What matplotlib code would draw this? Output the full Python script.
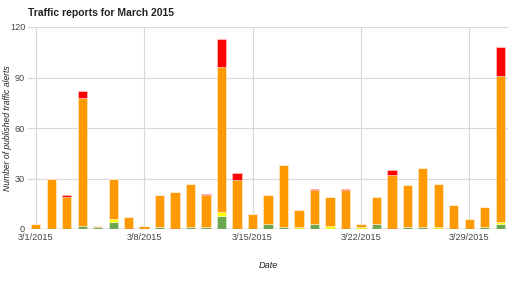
import numpy as np
import matplotlib.pyplot as plt

plt.rcParams["font.family"] = ["Liberation Sans", "DejaVu Sans"]

days = np.arange(1, 32)
green = [0, 0, 0, 2, 1, 4, 0, 0, 1, 0, 1, 1, 8, 0, 0, 3, 1, 0, 3, 0, 0, 0, 3, 0, 1, 1, 0, 0, 0, 1, 3]
yellow = [0, 0, 0, 0, 0, 2, 0, 0, 0, 0, 0, 0, 2, 0, 0, 0, 0, 1, 0, 2, 0, 1, 0, 0, 0, 0, 1, 0, 0, 0, 1]
orange = [3, 30, 19, 76, 1, 24, 7, 2, 19, 22, 26, 19, 86, 29, 9, 17, 37, 10, 20, 17, 23, 2, 16, 32, 25, 35, 26, 14, 6, 12, 87]
red = [0, 0, 1, 4, 0, 0, 0, 0, 0, 0, 0, 1, 17, 4, 0, 0, 0, 0, 1, 0, 1, 0, 0, 3, 0, 0, 0, 0, 0, 0, 17]
tick_days = [1, 8, 15, 22, 29]
tick_labels = ["3/1/2015", "3/8/2015", "3/15/2015", "3/22/2015", "3/29/2015"]

fig = plt.figure(figsize=(5.12, 2.84), dpi=100)
ax = fig.add_axes([28 / 512, 55 / 284, 480 / 512, 202 / 284])

bottom = np.zeros(len(days))
for vals, col in [(green, "#6aa84f"), (yellow, "#ffff00"), (orange, "#ff9900"), (red, "#ff0000")]:
    vals = np.array(vals, dtype=float)
    ax.bar(days, vals, bottom=bottom, width=0.6, color=col,
           edgecolor=(1, 1, 1, 0.45), linewidth=0.6, zorder=3)
    bottom += vals

ax.set_xlim(0.5, 31.5)
ax.set_ylim(0, 120)
ax.set_yticks([0, 30, 60, 90, 120])
ax.set_xticks(tick_days)
ax.set_xticklabels(tick_labels)
ax.tick_params(length=0, labelsize=6.6, colors="#444444")
ax.tick_params(axis="y", pad=2)
ax.tick_params(axis="x", pad=3)
ax.grid(True, color="#d9d9d9", linewidth=0.8, zorder=0)
for s in ax.spines.values():
    s.set_visible(False)
ax.axhline(0, color="#999999", linewidth=1, zorder=4)

ax.set_xlabel("Date", fontsize=6.6, style="italic", color="#222222")
ax.xaxis.set_label_coords(0.5, -32 / 202)
ax.set_ylabel("Number of published traffic alerts", fontsize=6.2, style="italic", color="#222222")
ax.yaxis.set_label_coords(-16 / 480, 0.5)
fig.text(28 / 512, 1 - 13 / 284, "Traffic reports for March 2015", fontsize=7.5,
         fontweight="bold", color="#222222", va="center")

fig.savefig("out.png", dpi=100)
